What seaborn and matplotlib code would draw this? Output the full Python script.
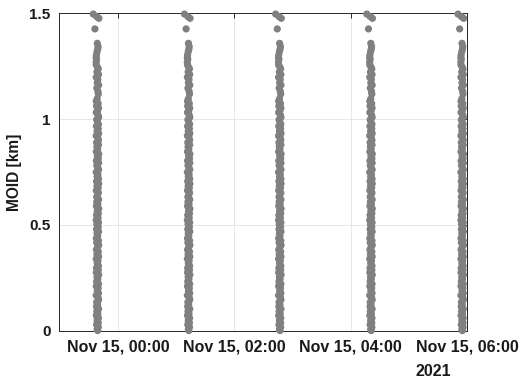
import matplotlib
matplotlib.use("Agg")
import matplotlib.pyplot as plt
import matplotlib.dates as mdates
import numpy as np
import pandas as pd
import seaborn as sns

# Start (centre) time of each close-approach pass
pass_times = ["2021-11-14 23:39", "2021-11-15 01:13", "2021-11-15 02:47",
              "2021-11-15 04:21", "2021-11-15 05:55"]

# Sample offsets within a pass [min] and the MOID computed at each sample [km]
offset_min = [
    -4.3, -0.8, 1.5, -2.6, -0.2, 0.6, 0.3, -0.4, -1.1, -1.3,
    -0.9, -1.4, -1.2, 0.2, 0.8, -0.5, 1.1, -1.3, 0.4, -0.2,
    1.2, -0.7, 0.5, 0.9, -0.3, -1.2, 0.7, -1.0, 1.1, 0.1,
    -1.2, 0.6, 1.2, -0.8, 0.0, 1.0, -1.1, 0.8, -0.4, 1.2,
    -1.3, 0.4, 1.0, -0.9, 1.1, -0.6, 0.2, -1.2, 1.3, -0.1,
    0.9, -1.1, 1.2, -0.7, 0.3, 1.2, -1.3, 0.5, -0.3, 1.1,
    -1.0, 1.3, -0.5, 0.7, -1.2, 1.0, 0.0, -0.8, 1.2, -0.7,
    0.4, -1.1, 1.3, -0.2, 0.9, -1.0, 0.6, -1.3, 1.1, -0.6,
    0.8, -0.9, 1.2, -0.4, 0.2, -1.2, 1.0, -0.8, 1.3, -0.1,
    -1.1, 0.9, -0.6, 1.2, -1.3, 0.5, -0.3, 1.0, -1.0, 0.9,
    -1.2, 1.3, -0.5, 0.3, -0.9, 1.1, -1.2, 0.7, -0.2, 1.1,
    -1.3, 0.6, 1.2, -0.8, 0.1, -1.0, 1.2, -0.7, 0.4, -1.2,
    1.0, -0.4, 0.8, -0.9, 0.9, -0.3, 0.2,
]
moid_km = [
    1.495, 1.483, 1.475, 1.425, 1.357, 1.342, 1.330, 1.318, 1.302, 1.290,
    1.281, 1.268, 1.255, 1.243, 1.236, 1.222, 1.210, 1.197, 1.186, 1.171,
    1.160, 1.146, 1.131, 1.118, 1.095, 1.084, 1.073, 1.061, 1.052, 1.040,
    1.031, 1.019, 1.008, 0.997, 0.986, 0.975, 0.966, 0.954, 0.943, 0.932,
    0.921, 0.912, 0.900, 0.889, 0.878, 0.869, 0.857, 0.846, 0.835, 0.826,
    0.814, 0.803, 0.793, 0.781, 0.770, 0.761, 0.749, 0.738, 0.727, 0.718,
    0.706, 0.695, 0.684, 0.675, 0.663, 0.652, 0.641, 0.632, 0.620, 0.609,
    0.598, 0.589, 0.577, 0.566, 0.555, 0.546, 0.534, 0.523, 0.512, 0.503,
    0.491, 0.480, 0.469, 0.460, 0.448, 0.437, 0.426, 0.417, 0.405, 0.394,
    0.383, 0.374, 0.362, 0.351, 0.340, 0.331, 0.319, 0.308, 0.297, 0.288,
    0.276, 0.265, 0.254, 0.245, 0.233, 0.222, 0.211, 0.202, 0.190, 0.179,
    0.168, 0.159, 0.147, 0.136, 0.125, 0.116, 0.104, 0.093, 0.082, 0.073,
    0.061, 0.050, 0.039, 0.030, 0.018, 0.008, 0.002,
]

x_ticks = ["2021-11-15 00:00", "2021-11-15 02:00", "2021-11-15 04:00", "2021-11-15 06:00"]
y_ticks = [0, 0.5, 1, 1.5]
y_ticklabels = ["0", "0.5", "1", "1.5"]

rows = []
for t0 in pass_times:
    base = pd.Timestamp(t0)
    for dt, m in zip(offset_min, moid_km):
        rows.append({"time": base + pd.Timedelta(minutes=dt), "moid": m})
df = pd.DataFrame(rows)

sns.set_theme(style="white")
plt.rcParams["font.family"] = ["Liberation Sans", "DejaVu Sans"]
plt.rcParams["font.weight"] = "bold"

axis_col = "#262626"
fig = plt.figure(figsize=(5.21, 3.85), dpi=100)
ax = fig.add_axes([0.1132, 0.1403, 0.7832, 0.8259])

sns.scatterplot(data=df, x="time", y="moid", color="#808080", s=27,
                linewidth=0, edgecolor="none", legend=False, clip_on=False,
                ax=ax, zorder=3)

ax.set_xlim(pd.Timestamp("2021-11-14 22:59:20"), pd.Timestamp("2021-11-15 06:00"))
ax.set_ylim(0, 1.5)
ax.set_xticks([pd.Timestamp(t) for t in x_ticks])
ax.xaxis.set_major_formatter(mdates.DateFormatter("%b %d, %H:%M"))
ax.set_yticks(y_ticks)
ax.set_yticklabels(y_ticklabels)

ax.grid(True, color="#e3e3e3", linewidth=0.6, zorder=0)
ax.set_axisbelow(True)
for sp in ax.spines.values():
    sp.set_visible(True)
    sp.set_color(axis_col)
    sp.set_linewidth(0.7)
ax.tick_params(axis="both", direction="in", length=3.5, width=0.7, color=axis_col,
               labelcolor="#1a1a1a", top=True, right=True, pad=5)
ax.tick_params(axis="x", labelsize=11.5, pad=6)
ax.tick_params(axis="y", labelsize=11, pad=6)
for lab in ax.get_xticklabels() + ax.get_yticklabels():
    lab.set_fontweight("bold")

ax.set_xlabel("")
ax.set_ylabel("MOID [km]", fontsize=11.2, fontweight="bold", color="#1a1a1a", labelpad=5)

fig.text(433 / 521, 1 - 371 / 385, "2021", ha="center", va="center",
         fontsize=11.5, fontweight="bold", color="#1a1a1a")

fig.savefig("out.png", dpi=100)
